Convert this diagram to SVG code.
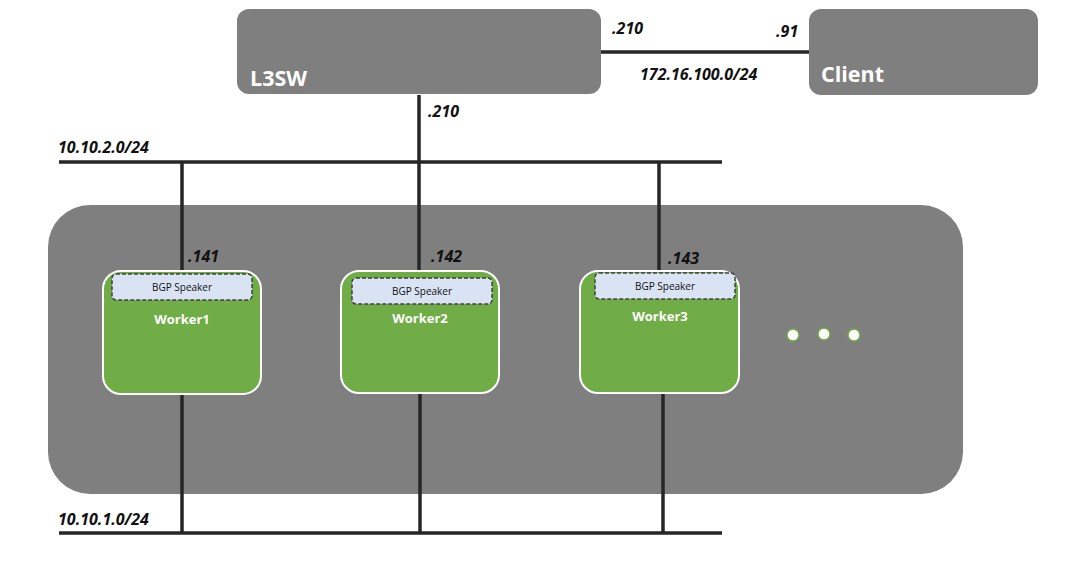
<svg xmlns="http://www.w3.org/2000/svg" width="1065" height="570" viewBox="0 0 1065 570">
<style>
.box{fill:#7f7f7f}
.title{font-family:"Open Sans","Noto Sans",sans-serif;font-weight:bold;fill:#fff;font-size:21.5px}
.lbl{font-family:"Open Sans","Noto Sans",sans-serif;font-style:italic;font-weight:bold;fill:#111;font-size:16px}
.wire{stroke:#262626;stroke-width:3.5;fill:none}
.worker{fill:#70ad47;stroke:#fff;stroke-width:2}
.bgp{fill:#dae3f3;stroke:#404040;stroke-width:1.5;stroke-dasharray:4 2}
.bgpt{font-family:"Open Sans","Noto Sans",sans-serif;font-size:10px;fill:#111;text-anchor:middle}
.wt{font-family:"Open Sans","Noto Sans",sans-serif;font-weight:bold;font-size:13px;fill:#fff;text-anchor:middle}
.dot{fill:#fff;stroke:#70ad47;stroke-width:1.5}
</style>
<rect width="1065" height="570" fill="#fff"/>
<g id="cluster"><rect class="box" x="48" y="205" width="915" height="289" rx="42"/></g>
<g id="connectors">
<line class="wire" x1="601" y1="52" x2="809" y2="52"/>
<line class="wire" x1="419" y1="95" x2="419" y2="271"/>
<line class="wire" x1="59" y1="162" x2="722" y2="162"/>
<line class="wire" x1="182" y1="162" x2="182" y2="271"/>
<line class="wire" x1="659" y1="162" x2="659" y2="271"/>
<line class="wire" x1="182" y1="394" x2="182" y2="533"/>
<line class="wire" x1="420" y1="393" x2="420" y2="533"/>
<line class="wire" x1="663" y1="393" x2="663" y2="533"/>
<line class="wire" x1="59" y1="533" x2="722" y2="533"/>
</g>
<g id="L3SW"><rect class="box" x="237" y="9" width="364" height="85" rx="12"/><text class="title" x="250" y="86">L3SW</text></g>
<g id="Client"><rect class="box" x="809" y="9" width="229" height="86" rx="12"/><text class="title" x="821" y="82">Client</text></g>
<g id="labels">
<text class="lbl" x="612" y="34">.210</text>
<text class="lbl" x="776" y="37">.91</text>
<text class="lbl" x="640" y="80">172.16.100.0/24</text>
<text class="lbl" x="428" y="117">.210</text>
<text class="lbl" x="58" y="153">10.10.2.0/24</text>
<text class="lbl" x="58" y="525">10.10.1.0/24</text>
<text class="lbl" x="188" y="262">.141</text>
<text class="lbl" x="431" y="262">.142</text>
<text class="lbl" x="668" y="264">.143</text>
</g>
<g id="Worker1"><rect class="worker" x="103" y="271" width="158" height="123" rx="18"/><rect class="bgp" x="112" y="274" width="140" height="26" rx="4"/><text class="bgpt" x="182" y="291">BGP Speaker</text><text class="wt" x="182" y="324">Worker1</text></g>
<g id="Worker2"><rect class="worker" x="341" y="271" width="158" height="122" rx="18"/><rect class="bgp" x="352" y="278" width="140" height="26" rx="4"/><text class="bgpt" x="422" y="295">BGP Speaker</text><text class="wt" x="420" y="323">Worker2</text></g>
<g id="Worker3"><rect class="worker" x="580" y="271" width="159" height="122" rx="18"/><rect class="bgp" x="595" y="273" width="140" height="26" rx="4"/><text class="bgpt" x="665" y="290">BGP Speaker</text><text class="wt" x="660" y="321">Worker3</text></g>
<g id="more"><circle class="dot" cx="793" cy="335" r="6"/><circle class="dot" cx="824" cy="334" r="6"/><circle class="dot" cx="854" cy="335" r="6"/></g>
</svg>
